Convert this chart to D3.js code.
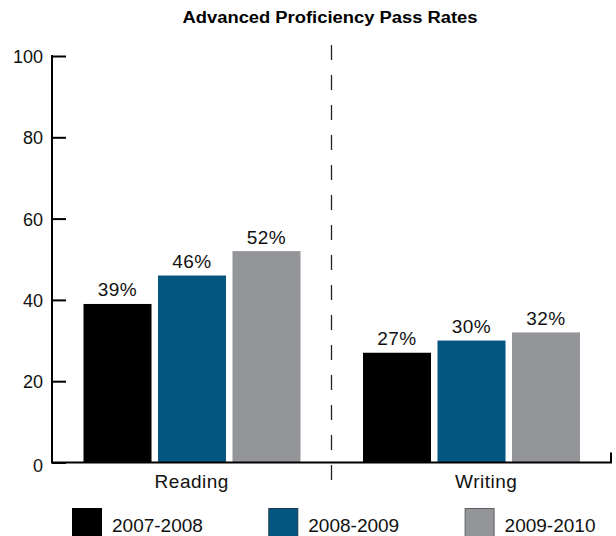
<!DOCTYPE html>
<html>
<head>
<meta charset="utf-8">
<script src="https://cdn.jsdelivr.net/npm/d3@7"></script>
<style>
  html, body { margin: 0; padding: 0; background: #fff; }
  svg { display: block; font-family: "Liberation Sans", Arial, sans-serif; }
</style>
</head>
<body>
<svg id="chart" width="616" height="536"></svg>
<script>
const title = "Advanced Proficiency Pass Rates";
const categories = ["Reading", "Writing"];
const seriesNames = ["2007-2008", "2008-2009", "2009-2010"];
const values2007 = [39, 27];
const values2008 = [46, 30];
const values2009 = [52, 32];
const yTicks = [0, 20, 40, 60, 80, 100];
const colors = ["#000000", "#035680", "#939598"];
const borders = ["#000000", "#1d3a4f", "#5f6062"];

const seriesValues = [values2007, values2008, values2009];

(function () {
const svg = d3.select("#chart");
const mLeft = 52, mRight = 611, mTop = 56, mBottom = 462.5;

const x = d3.scaleBand().domain(categories).range([mLeft, mRight]).padding(0);
const xInner = d3.scaleBand().domain(seriesNames)
  .range([31.5, x.bandwidth() - 31]).paddingInner(0.087).paddingOuter(0);
const y = d3.scaleLinear().domain([0, 100]).range([mBottom, mTop]);

// title
svg.append("text")
  .attr("x", 330).attr("y", 23)
  .attr("text-anchor", "middle")
  .attr("font-weight", "bold")
  .attr("font-size", 16)
  .attr("textLength", 295)
  .attr("lengthAdjust", "spacingAndGlyphs")
  .text(title);

// bars
categories.forEach((c, ci) => {
  const g = svg.append("g").attr("transform", `translate(${x(c)},0)`);
  seriesNames.forEach((s, si) => {
    const v = seriesValues[si][ci];
    g.append("rect")
      .attr("x", xInner(s))
      .attr("y", y(v))
      .attr("width", xInner.bandwidth())
      .attr("height", y(0) - y(v))
      .attr("fill", colors[si]);
    g.append("text")
      .attr("x", xInner(s) + xInner.bandwidth() / 2)
      .attr("y", y(v) - 7.5)
      .attr("text-anchor", "middle")
      .attr("font-size", 19)
      .attr("letter-spacing", 0.5)
      .attr("fill", "#111")
      .text(v + "%");
  });
});

// divider dashed line
const midX = x(categories[1]);
svg.append("line")
  .attr("x1", midX).attr("x2", midX)
  .attr("y1", 45).attr("y2", 494)
  .attr("stroke", "#222").attr("stroke-width", 1.3)
  .attr("stroke-dasharray", "15,15");

// y axis ticks (pointing inward)
const yAxis = d3.axisRight(y).tickValues(yTicks).tickSize(14).tickFormat("");
const yg = svg.append("g").attr("transform", `translate(${mLeft},0)`).call(yAxis);
yg.select(".domain").remove();
yg.selectAll(".tick line").attr("stroke", "#000").attr("stroke-width", 2);
svg.append("line")
  .attr("x1", mLeft).attr("x2", mLeft)
  .attr("y1", y(100) - 1).attr("y2", y(0) + 1)
  .attr("stroke", "#000").attr("stroke-width", 2);

// y tick labels
svg.append("g").selectAll("text").data(yTicks).join("text")
  .attr("x", 43)
  .attr("y", d => y(d) + (d === 0 ? 9 : 7))
  .attr("text-anchor", "end")
  .attr("font-size", 18)
  .attr("fill", "#111")
  .text(d => d);

// x baseline with right end tick
svg.append("path")
  .attr("d", `M${mLeft},${y(0)}H${mRight}V${y(0) - 10}`)
  .attr("fill", "none")
  .attr("stroke", "#000").attr("stroke-width", 2);

// category labels
svg.append("g").selectAll("text").data(categories).join("text")
  .attr("x", d => x(d) + x.bandwidth() / 2)
  .attr("dx", (d, i) => i === 1 ? 15 : 0)
  .attr("y", 488)
  .attr("text-anchor", "middle")
  .attr("font-size", 19)
  .attr("letter-spacing", 0.5)
  .attr("fill", "#111")
  .text(d => d);

// legend
const lg = svg.append("g");
seriesNames.forEach((s, i) => {
  const lx = 72.5 + i * 196.3;
  lg.append("rect")
    .attr("x", lx).attr("y", 508.5)
    .attr("width", 29).attr("height", 30)
    .attr("fill", colors[i])
    .attr("stroke", borders[i]).attr("stroke-width", 1);
  lg.append("text")
    .attr("x", lx + 39.5).attr("y", 532)
    .attr("font-size", 19)
    .attr("fill", "#111")
    .text(s);
});
})();
</script>
</body>
</html>
